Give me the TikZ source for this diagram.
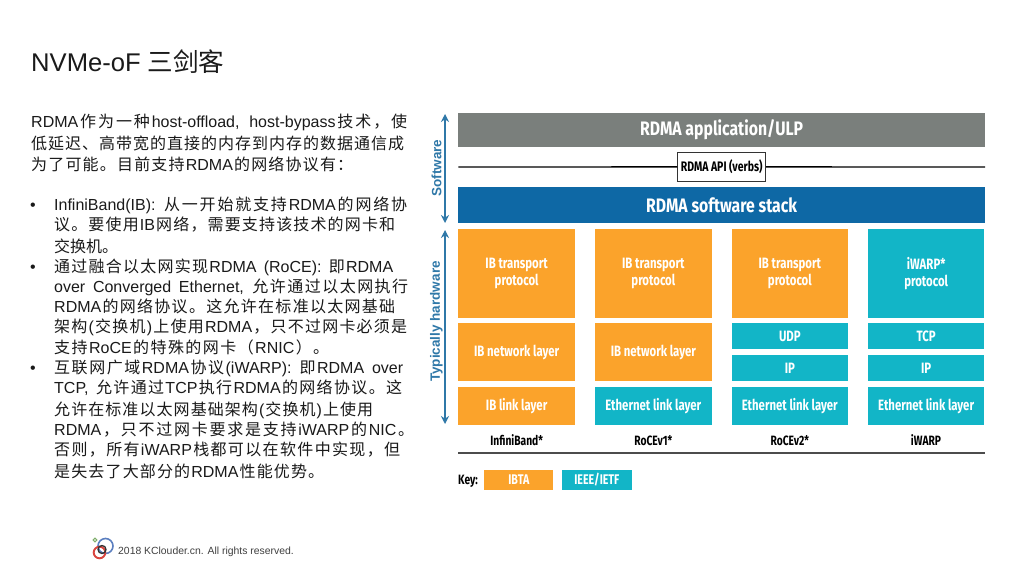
\documentclass[tikz,border=0pt]{standalone}
\usepackage{fontspec}
\usetikzlibrary{arrows.meta}
\setmainfont{Liberation Sans}
\newfontfamily\latf{Liberation Sans}
\newfontfamily\cjkf{Noto Sans CJK SC}
\newfontfamily\condf[FakeStretch=0.76]{Fira Sans}
\newfontfamily\condb[FakeStretch=0.81]{Fira Sans}
\definecolor{gbar}{HTML}{7A7F7C}
\definecolor{bbar}{HTML}{0E68A5}
\definecolor{orng}{HTML}{FBA32B}
\definecolor{teal2}{HTML}{12B5C7}
\definecolor{arrb}{HTML}{2F78A8}
\definecolor{txtd}{HTML}{1A1A1A}
\definecolor{ringb}{HTML}{5B7FC0}
\definecolor{ringr}{HTML}{D9453F}
\definecolor{ringg}{HTML}{7FAE6B}
\newXeTeXintercharclass\cjkcl
\newcount\cc
\cc="3000 \loop \XeTeXcharclass\cc=\cjkcl \ifnum\cc<"303F \advance\cc 1 \repeat
\cc="4E00 \loop \XeTeXcharclass\cc=\cjkcl \ifnum\cc<"9FFF \advance\cc 1 \repeat
\cc="FF00 \loop \XeTeXcharclass\cc=\cjkcl \ifnum\cc<"FFEF \advance\cc 1 \repeat
\def\gl{\hskip 0pt plus 1pt minus 0.6pt\relax}
\XeTeXinterchartoks 0 \cjkcl={\gl\cjkf}
\XeTeXinterchartoks \cjkcl 0={\latf\gl}
\XeTeXinterchartoks \cjkcl \cjkcl={\gl}
\XeTeXinterchartoks 4095 \cjkcl={\cjkf}
\XeTeXinterchartoks \cjkcl 4095={\latf}
\XeTeXinterchartoks 4095 0={\latf}
\newcommand{\mixl}[5]{\node[anchor=base west,inner sep=0pt,text=txtd] (#1) at (#2,#3)
  {\fontsize{16}{18}\selectfont\XeTeXinterchartokenstate=1 \hbox to #4pt{#5}};}
\newcommand{\blk}[7]{\node[#6,minimum width={(#4-#2)*1pt},minimum height={(#5-#3)*1pt},align=center]
  (#1) at ({(#2+#4)/2},{(#3+#5)/2}) {#7};}
\tikzset{
  lay/.style={inner sep=0pt,outer sep=0pt,text=white,font=\condf\fontsize{15}{16.5}\selectfont\bfseries},
  org/.style={lay,fill=orng},
  tea/.style={lay,fill=teal2},
  bar/.style={lay,font=\condb\fontsize{19.5}{20}\selectfont\bfseries},
  col/.style={inner sep=0pt,text=black,font=\condf\fontsize{13.5}{14}\selectfont\bfseries},
  side/.style={inner sep=0pt,text=arrb,rotate=90,font=\latf\fontsize{13.5}{14}\selectfont\bfseries},
  dbl/.style={arrb,line width=1.3pt,{Stealth[length=8pt,width=8pt]}-{Stealth[length=8pt,width=8pt]}}
}
\begin{document}
\begin{tikzpicture}[x=1pt,y=-1pt]
\useasboundingbox (0,0) rectangle (1024,576);
\fill[white] (0,0) rectangle (1024,576);
% title
\node[anchor=base west,inner sep=0pt,text=txtd] (title) at (31,71)
  {\fontsize{25.6}{28}\selectfont\XeTeXinterchartokenstate=1 \hbox to 193pt{NVMe-oF 三剑客}};
% left text
\mixl{t1}{31}{127}{376}{RDMA作为一种host-offload, host-bypass技术，使}
\mixl{t2}{31}{149}{373}{低延迟、高带宽的直接的内存到内存的数据通信成}
\mixl{t3}{31}{170}{322}{为了可能。目前支持RDMA的网络协议有：}
\node[anchor=base west,inner sep=0pt,text=txtd,font=\fontsize{16}{18}\selectfont] (b1) at (30,210) {•};
\mixl{a1}{54}{210}{353}{InfiniBand(IB): 从一开始就支持RDMA的网络协}
\mixl{a2}{54}{230}{341}{议。要使用IB网络，需要支持该技术的网卡和}
\mixl{a3}{54}{252}{64}{交换机。}
\node[anchor=base west,inner sep=0pt,text=txtd,font=\fontsize{16}{18}\selectfont] (b2) at (30,272) {•};
\mixl{a4}{54}{272}{339}{通过融合以太网实现RDMA (RoCE): 即RDMA}
\mixl{a5}{54}{292}{354}{over Converged Ethernet, 允许通过以太网执行}
\mixl{a6}{54}{312}{341}{RDMA的网络协议。这允许在标准以太网基础}
\mixl{a7}{54}{332}{353}{架构(交换机)上使用RDMA，只不过网卡必须是}
\mixl{a8}{54}{353}{275}{支持RoCE的特殊的网卡（RNIC）。}
\node[anchor=base west,inner sep=0pt,text=txtd,font=\fontsize{16}{18}\selectfont] (b3) at (30,373) {•};
\mixl{a9}{54}{373}{349}{互联网广域RDMA协议(iWARP): 即RDMA over}
\mixl{a10}{54}{393}{348}{TCP, 允许通过TCP执行RDMA的网络协议。这}
\mixl{a11}{54}{415}{319}{允许在标准以太网基础架构(交换机)上使用}
\mixl{a12}{54}{435}{360}{RDMA，只不过网卡要求是支持iWARP的NIC。}
\mixl{a13}{54}{455}{346}{否则，所有iWARP栈都可以在软件中实现，但}
\mixl{a14}{54}{477}{270}{是失去了大部分的RDMA性能优势。}
% footer
\node[anchor=base west,inner sep=0pt,text=black!75,font=\latf\fontsize{10.4}{12}\selectfont] (foot) at (118,554.5)
  {2018 KClouder.cn. All rights reserved.};
\draw[ringb,line width=1.6pt] (105.5,546) circle (7.5);
\draw[ringr,line width=1.9pt] (99.5,552.5) circle (5.8);
\draw[black!80,line width=1.3pt] (102,549.5) circle (4);
\draw[ringg,line width=1pt] (95,540) circle (1.9);
% diagram bars
\blk{app}{458.3}{113.3}{985}{147}{bar,fill=gbar}{RDMA application/ULP}
\blk{stack}{458.3}{186.7}{985}{223.3}{bar,fill=bbar}{RDMA software stack}
\coordinate (apil) at (458.3,167);
\coordinate (apir) at (985,167);
\blk{api}{677.7}{152.7}{765.7}{181}{draw=black!80,line width=0.8pt,fill=white,inner sep=0pt,text=black,font=\condf\fontsize{13.8}{14}\selectfont\bfseries}{RDMA API (verbs)}
\draw[black,line width=1.3pt] (apil) -- (api.west);
\draw[black,line width=1.3pt] (api.east) -- (apir);
% columns
\blk{c1t}{458.3}{229}{575}{317.7}{org}{IB transport\\protocol}
\blk{c1n}{458.3}{323.3}{575}{381}{org}{IB network layer}
\blk{c1l}{458.3}{386.7}{575}{425.3}{org}{IB link layer}
\blk{c2t}{595}{229}{711.7}{317.7}{org}{IB transport\\protocol}
\blk{c2n}{595}{323.3}{711.7}{381}{org}{IB network layer}
\blk{c2l}{595}{386.7}{711.7}{425.3}{tea}{Ethernet link layer}
\blk{c3t}{731.7}{229}{848}{317.7}{org}{IB transport\\protocol}
\blk{c3u}{731.7}{323.3}{848}{349.3}{tea}{UDP}
\blk{c3i}{731.7}{355}{848}{381}{tea}{IP}
\blk{c3l}{731.7}{386.7}{848}{425.3}{tea}{Ethernet link layer}
\blk{c4t}{868}{229}{984.3}{317.7}{tea}{iWARP*\\protocol}
\blk{c4u}{868}{323.3}{984.3}{349.3}{tea}{TCP}
\blk{c4i}{868}{355}{984.3}{381}{tea}{IP}
\blk{c4l}{868}{386.7}{984.3}{425.3}{tea}{Ethernet link layer}
% column labels
\node[col,anchor=base] (n1) at (516.7,445.5) {InfiniBand*};
\node[col,anchor=base] (n2) at (653.3,445.5) {RoCEv1*};
\node[col,anchor=base] (n3) at (789.8,445.5) {RoCEv2*};
\node[col,anchor=base] (n4) at (926,445.5) {iWARP};
\coordinate (bl) at (458.3,453.3);
\coordinate (br) at (985,453.3);
\draw[black!70,line width=2pt] (bl) -- (br);
% key
\node[anchor=base west,col] (key) at (458,484) {Key:};
\blk{k1}{484.3}{470}{553.3}{490}{org,font=\condf\fontsize{14}{14}\selectfont\bfseries}{IBTA}
\blk{k2}{562}{470}{631.7}{490}{tea,font=\condf\fontsize{14}{14}\selectfont\bfseries}{IEEE/IETF}
% side arrows
\coordinate (s1) at (445,114);
\coordinate (s2) at (445,223);
\coordinate (h1) at (445,230);
\coordinate (h2) at (445,424);
\draw[dbl] (s1) -- (s2);
\draw[dbl] (h1) -- (h2);
\node[side] (sw) at (436.5,168) {Software};
\node[side] (hw) at (436.5,321.5) {Typically hardware};
\end{tikzpicture}
\end{document}
